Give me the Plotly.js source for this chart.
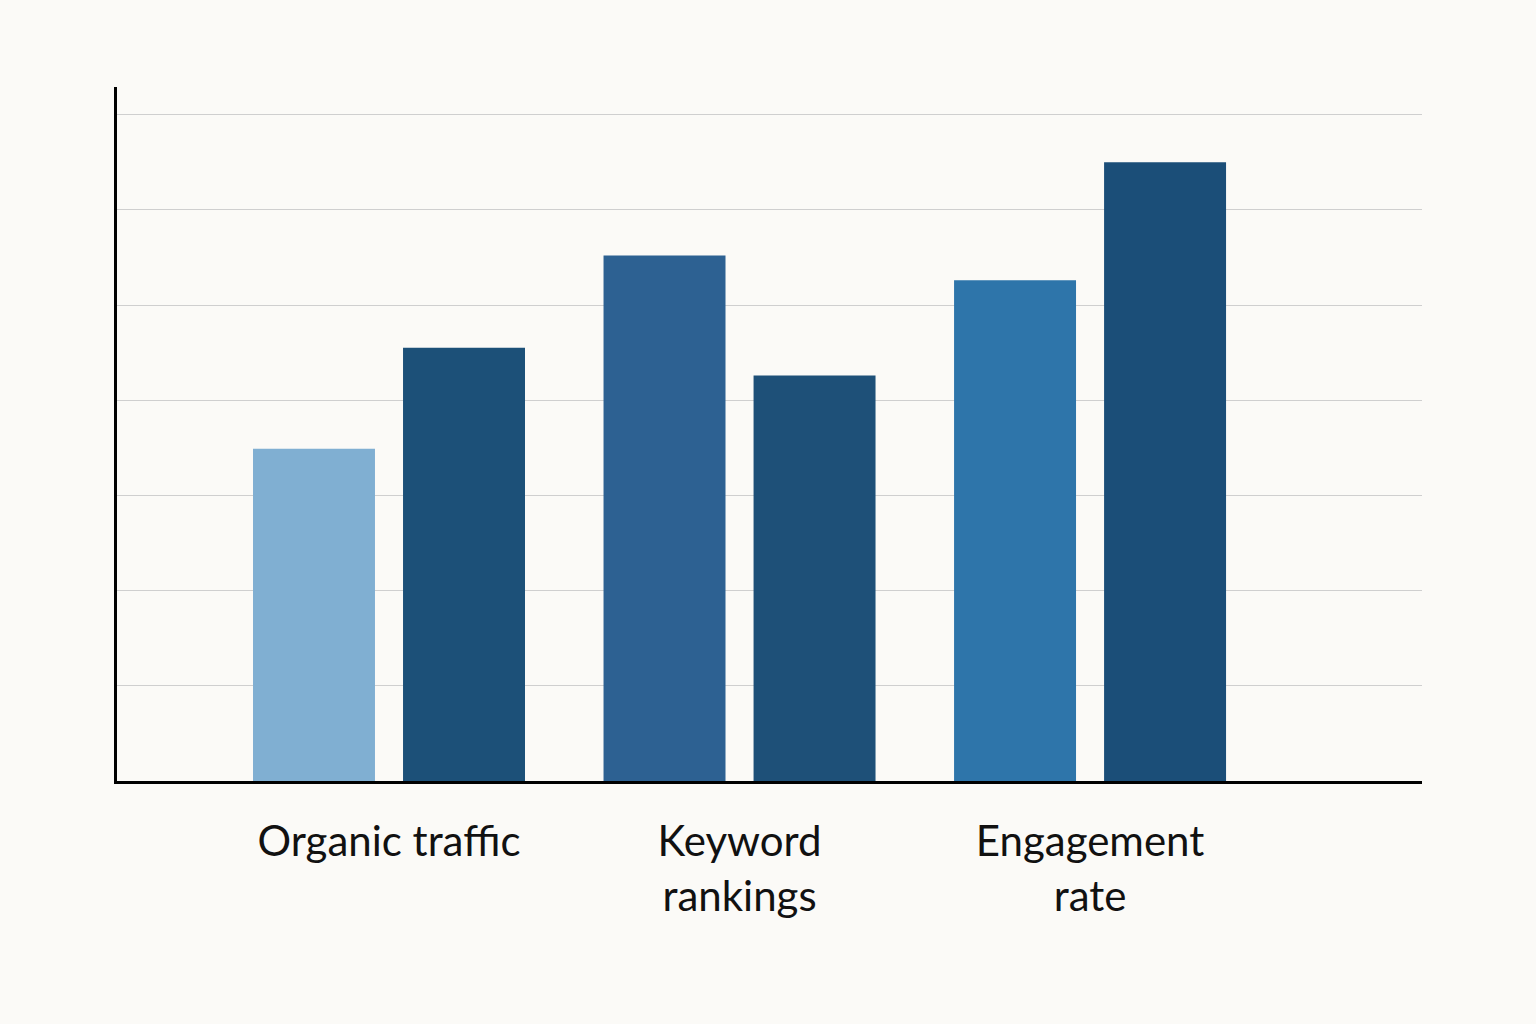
<!DOCTYPE html>
<html>
<head>
<meta charset="utf-8">
<script src="https://cdn.plot.ly/plotly-3.0.1.min.js"></script>
<style>
  html, body { margin: 0; padding: 0; background: #fbfaf7; }
  #chart { width: 1536px; height: 1024px; }
</style>
</head>
<body>
<div id="chart"></div>
<script>
// Data
const categories = ["Organic traffic", "Keyword<br>rankings", "Engagement<br>rate"];
const seriesA = [3.49, 5.52, 5.26];
const seriesB = [4.55, 4.26, 6.50];
const colorsA = ["#80afd2", "#2d6192", "#2e75aa"];
const colorsB = ["#1c5078", "#1e5078", "#1b4e78"];

const traces = [
  {
    type: "bar",
    x: categories,
    y: seriesA,
    marker: { color: colorsA, line: { width: 0 } },
    hoverinfo: "skip",
    showlegend: false
  },
  {
    type: "bar",
    x: categories,
    y: seriesB,
    marker: { color: colorsB, line: { width: 0 } },
    hoverinfo: "skip",
    showlegend: false
  }
];

const layout = {
  width: 1536,
  height: 1024,
  paper_bgcolor: "#fbfaf7",
  plot_bgcolor: "#fbfaf7",
  margin: { l: 117, r: 114, t: 87, b: 243 },
  barmode: "group",
  bargap: 0.144,
  bargroupgap: 0.187,
  font: { family: "Lato, 'Noto Sans', sans-serif", color: "#111111" },
  xaxis: {
    type: "category",
    range: [-0.776, 2.947],
    showline: true,
    linecolor: "#000000",
    linewidth: 3,
    showgrid: false,
    zeroline: false,
    ticks: "",
    ticklabelstandoff: 22,
    tickfont: { size: 42, color: "#111111", family: "Lato, 'Noto Sans', sans-serif" }
  },
  yaxis: {
    range: [0, 7.29],
    dtick: 1,
    tick0: 0,
    showline: true,
    linecolor: "#000000",
    linewidth: 3,
    showgrid: true,
    gridcolor: "#cfcfcf",
    gridwidth: 1,
    zeroline: false,
    showticklabels: false,
    ticks: ""
  }
};

Plotly.newPlot("chart", traces, layout, { staticPlot: true, displayModeBar: false });
</script>
</body>
</html>
